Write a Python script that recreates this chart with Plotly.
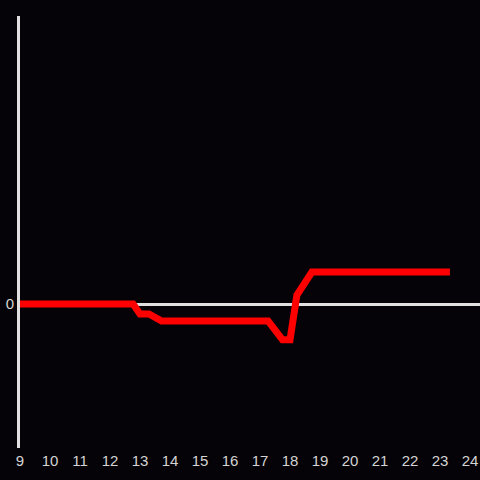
import plotly.graph_objects as go

x_vals = [9.0, 12.77, 13.0, 13.3, 13.72, 17.27, 17.75, 18.0, 18.23, 18.73, 23.33]
y_vals = [0.0, 0.0, -0.31, -0.31, -0.53, -0.53, -1.12, -1.12, 0.28, 1.0, 1.0]
x_ticks = list(range(9, 25))

fig = go.Figure()
fig.add_trace(go.Scatter(x=x_vals, y=y_vals, mode="lines",
                         line=dict(color="#ff0000", width=7)))
bg = "#050307"
fig.update_layout(
    width=480, height=480,
    paper_bgcolor=bg, plot_bgcolor=bg,
    margin=dict(l=20, r=0, t=16, b=32),
    showlegend=False,
    font=dict(family="Liberation Sans, Arial, sans-serif", size=15, color="#d4d4d4"),
    xaxis=dict(range=[9, 24.333], tickvals=x_ticks, ticktext=[str(t) for t in x_ticks],
               showgrid=False, zeroline=False, showline=False, ticks="",
               ticklabelstandoff=2,
               tickfont=dict(size=15, color="#d4d4d4")),
    yaxis=dict(range=[-4.5, 9], tickvals=[0], ticktext=["0"], showgrid=False,
               zeroline=True, zerolinecolor="#e0e0e0", zerolinewidth=3,
               showline=True, linecolor="#e0e0e0", linewidth=3, ticks="",
               tickfont=dict(size=15, color="#d4d4d4")),
)
fig.write_html("out.html", config={"displayModeBar": False},
               post_script="document.body.style.margin='0';document.body.style.padding='0';"
                           "document.body.style.background='%s';" % bg)
